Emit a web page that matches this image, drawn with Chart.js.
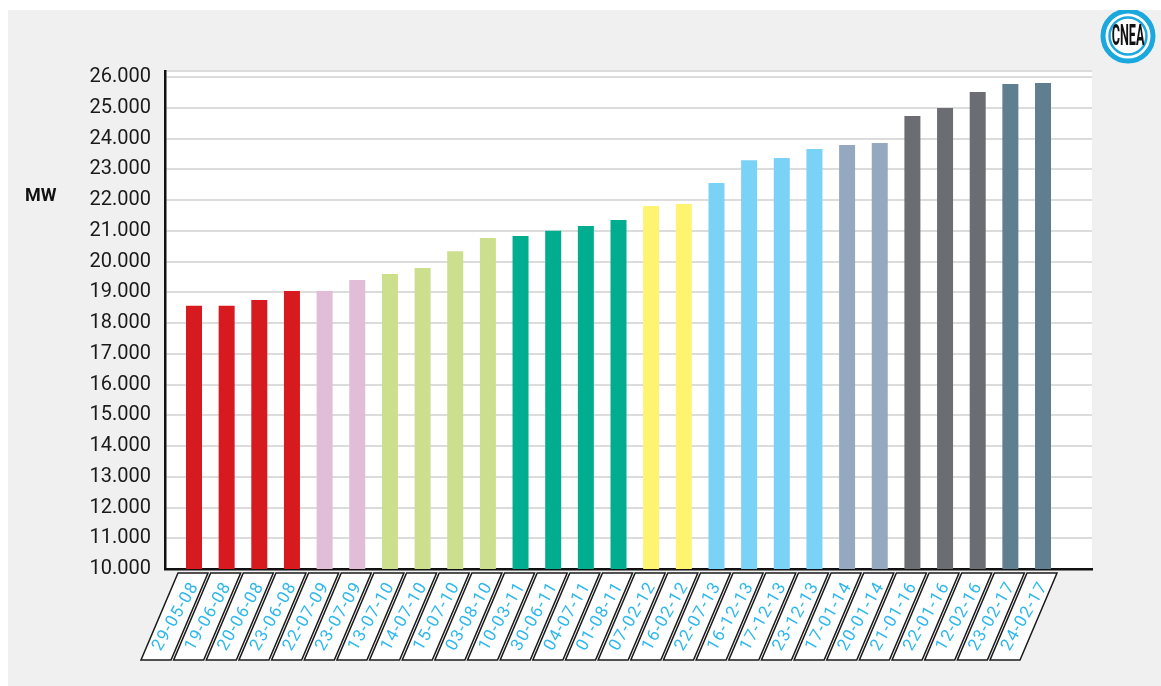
<!DOCTYPE html>
<html>
<head>
<meta charset="utf-8">
<script src="https://cdn.jsdelivr.net/npm/chart.js@4"></script>
<style>
    body { margin: 0; background: #ffffff; }
    #panel { position: absolute; left: 8px; top: 10px; width: 1153px; height: 676px; background: #f0f0f0; }
</style>
</head>
<body>
<div id="panel"><canvas id="demandChart" width="1153" height="676"></canvas></div>
<script>
// Récords de demanda (MW)
const fechas = ['29-05-08', '19-06-08', '20-06-08', '23-06-08', '22-07-09', '23-07-09', '13-07-10', '14-07-10',
    '15-07-10', '03-08-10', '10-03-11', '30-06-11', '04-07-11', '01-08-11', '07-02-12', '16-02-12', '22-07-13',
    '16-12-13', '17-12-13', '23-12-13', '17-01-14', '20-01-14', '21-01-16', '22-01-16', '12-02-16', '23-02-17', '24-02-17'];
const demanda = [18560, 18560, 18750, 19040, 19040, 19400, 19600, 19790, 20340, 20770, 20830, 21000, 21160, 21350,
    21810, 21870, 22560, 23300, 23370, 23660, 23790, 23860, 24740, 25000, 25520, 25780, 25810];
const colores = ['#d71920', '#d71920', '#d71920', '#d71920', '#e2bdd8', '#e2bdd8', '#cbdf8c', '#cbdf8c', '#cbdf8c',
    '#cbdf8c', '#00ae8f', '#00ae8f', '#00ae8f', '#00ae8f', '#fff46f', '#fff46f', '#7ad2f7', '#7ad2f7', '#7ad2f7',
    '#7ad2f7', '#94a9bf', '#94a9bf', '#6c6d72', '#6c6d72', '#6c6d72', '#5f7e8f', '#5f7e8f'];
const yTicks = [10000, 11000, 12000, 13000, 14000, 15000, 16000, 17000, 18000, 19000, 20000, 21000, 22000, 23000,
    24000, 25000, 26000];

// fondo blanco del área del gráfico, cajas de fechas, "MW" y logo
const extrasPlugin = {
    id: 'extras',
    beforeDraw(chart) {
        const a = chart.chartArea;
        chart.ctx.save();
        chart.ctx.fillStyle = '#ffffff';
        chart.ctx.fillRect(a.left, a.top, a.right - a.left, a.bottom - a.top);
        chart.ctx.restore();
    },
    afterDraw(chart) {
        const ctx = chart.ctx;
        const xScale = chart.scales.x;
        const base = chart.chartArea.bottom;
        ctx.save();
        fechas.forEach((f, i) => {
            const x = xScale.getPixelForValue(i);
            const top = base + 4, bottom = base + 91;
            ctx.beginPath();
            ctx.moveTo(x - 16, top);
            ctx.lineTo(x + 14, top);
            ctx.lineTo(x - 23, bottom);
            ctx.lineTo(x - 53, bottom);
            ctx.closePath();
            ctx.fillStyle = '#ffffff';
            ctx.fill();
            ctx.lineWidth = 1.5;
            ctx.strokeStyle = '#1a1a1a';
            ctx.stroke();

            ctx.save();
            ctx.translate(x - 18, (top + bottom) / 2);
            ctx.rotate(-Math.PI / 3);
            ctx.font = '17px Roboto';
            ctx.letterSpacing = '1.2px';
            ctx.fillStyle = '#2cb7ef';
            ctx.textAlign = 'center';
            ctx.textBaseline = 'middle';
            ctx.fillText(f, 0, 0);
            ctx.restore();
        });

        ctx.font = 'bold 18px Roboto';
        ctx.fillStyle = '#111111';
        ctx.textAlign = 'left';
        ctx.textBaseline = 'middle';
        ctx.fillText('MW', 17, 186);

        // logo CNEA
        const cx = 1120, cy = 26;
        ctx.beginPath();
        ctx.arc(cx, cy, 25, 0, Math.PI * 2);
        ctx.fillStyle = '#ffffff';
        ctx.fill();
        ctx.lineWidth = 5;
        ctx.strokeStyle = '#1ba8df';
        ctx.stroke();
        ctx.beginPath();
        ctx.arc(cx, cy, 18.5, 0, Math.PI * 2);
        ctx.lineWidth = 2.5;
        ctx.stroke();
        ctx.translate(cx, cy + 1);
        ctx.scale(0.42, 1);
        ctx.font = 'bold 30px Roboto';
        ctx.fillStyle = '#111111';
        ctx.textAlign = 'center';
        ctx.fillText('CNEA', 0, 0);
        ctx.restore();
    }
};

const config = {
    type: 'bar',
    data: {
        datasets: [{
            data: demanda.map((v, i) => ({ x: i, y: v })),
            backgroundColor: colores,
            barPercentage: 0.49,
            categoryPercentage: 1
        }]
    },
    options: {
        responsive: false,
        animation: false,
        layout: { padding: { top: 61, right: 69, bottom: 117, left: 0 } },
        plugins: { legend: { display: false }, tooltip: { enabled: false } },
        scales: {
            x: {
                type: 'linear',
                offset: false,
                min: -0.888,
                max: 27.5,
                grid: { display: false, drawTicks: false },
                border: { color: '#111111', width: 2.5 },
                ticks: { display: false },
                afterFit: scale => { scale.height = 0; }
            },
            y: {
                min: 10000,
                max: 26200,
                afterBuildTicks: scale => {
                    scale.ticks = yTicks.map(v => ({ value: v })).concat([{ value: 26200 }]);
                },
                afterFit: scale => { scale.width = 157; },
                grid: { color: '#dcdcdc', lineWidth: 2, drawTicks: false },
                border: { color: '#111111', width: 2.5 },
                ticks: {
                    autoSkip: false,
                    padding: 14,
                    color: '#1a1a1a',
                    font: { family: 'Roboto', size: 20 },
                    callback: v => v > 26000 ? '' : (v / 1000).toFixed(3)
                }
            }
        }
    },
    plugins: [extrasPlugin]
};

new Chart(document.getElementById('demandChart').getContext('2d'), config);
</script>
</body>
</html>
